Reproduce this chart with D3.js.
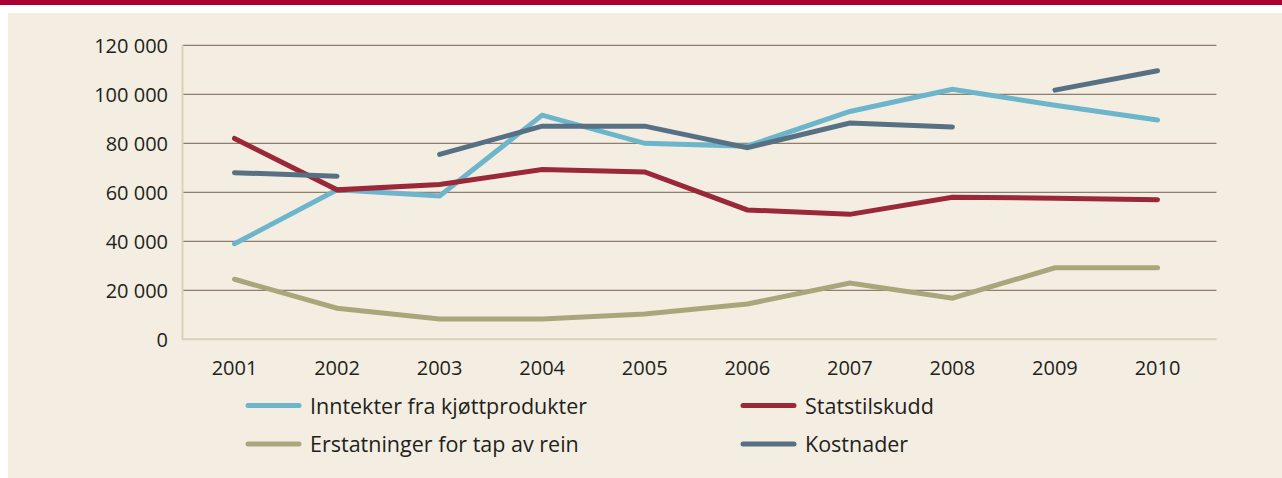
<!DOCTYPE html>
<html>
<head>
<meta charset="utf-8">
<script src="https://cdn.jsdelivr.net/npm/d3@7"></script>
<style>
  body { margin: 0; background: #fff; }
  svg { display: block; font-family: "Open Sans", sans-serif; }
</style>
</head>
<body>
<svg id="chart" width="1282" height="478"></svg>
<script>
  // data
  var years = ['2001','2002','2003','2004','2005','2006','2007','2008','2009','2010']
  var inntekter = [39000, 61000, 58500, 91500, 80000, 78800, 93000, 102000, 95500, 89500]
  var statstilskudd = [82000, 61000, 63200, 69300, 68300, 52800, 51000, 58000, 57600, 57000]
  var erstatninger = [24500, 12700, 8300, 8300, 10300, 14400, 23000, 16800, 29200, 29200]
  // kostnader has breaks: 2001-2002 | 2003-2008 | 2009-2010
  var kostnader = [68000, 66600, 75500, 87000, 87000, 78200, 88300, 86700, 101700, 109600]
  var kostnaderBreaks = [2, 8] // index where a new segment starts
  var yTicks = [0, 20000, 40000, 60000, 80000, 100000, 120000]

  var series = [
    {name: 'Inntekter fra kjøttprodukter', values: inntekter, color: '#6cb5cb'},
    {name: 'Statstilskudd', values: statstilskudd, color: '#9a2839'},
    {name: 'Erstatninger for tap av rein', values: erstatninger, color: '#aaa67c'},
    {name: 'Kostnader', values: kostnader, color: '#587084', breaks: kostnaderBreaks}
  ]

  var svg = d3.select('#chart')
  var plotLeft = 182.5, plotRight = 1216.5, plotTop = 45.3, plotBottom = 339.3

  svg.append('rect').attr('x', 0).attr('y', 0).attr('width', 1282).attr('height', 5).style('fill', '#ab0033')
  svg.append('rect').attr('x', 8).attr('y', 13).attr('width', 1274).attr('height', 465).style('fill', '#f4eee2')

  var x = d3.scalePoint().domain(years).range([234.5, 1157.5])
  var y = d3.scaleLinear().domain([0, 120000]).range([plotBottom, plotTop])

  var fmt = function(v){ return d3.format(',')(v).replace(/,/g, ' ') }

  // gridlines
  svg.append('g').selectAll('line')
    .data(yTicks.filter(function(d){ return d > 0 }))
    .enter().append('line')
    .attr('x1', plotLeft).attr('x2', plotRight)
    .attr('y1', function(d){ return y(d) }).attr('y2', function(d){ return y(d) })
    .style('stroke', '#8c7e70').style('stroke-width', 1.3)

  // axis frame
  svg.append('path')
    .attr('d', 'M' + plotLeft + ',' + plotTop + 'V' + plotBottom + 'H' + plotRight)
    .style('fill', 'none').style('stroke', '#d9d1ba').style('stroke-width', 2)

  svg.append('g').selectAll('text')
    .data(yTicks)
    .enter().append('text')
    .attr('x', 168).attr('y', function(d){ return y(d) + 8 })
    .attr('text-anchor', 'end')
    .style('font-size', '20px').style('fill', '#231f20')
    .text(fmt)

  svg.append('g').selectAll('text')
    .data(years)
    .enter().append('text')
    .attr('x', function(d){ return x(d) })
    .attr('y', 375)
    .attr('text-anchor', 'middle')
    .style('font-size', '20px').style('fill', '#231f20')
    .text(function(d){ return d })

  var line = d3.line()
    .x(function(d){ return x(d.year) })
    .y(function(d){ return y(d.value) })

  series.forEach(function(s){
    var pts = s.values.map(function(v, i){ return {year: years[i], value: v} })
    var cuts = [0].concat(s.breaks || []).concat([pts.length])
    for (var k = 0; k < cuts.length - 1; k++) {
      svg.append('path')
        .attr('d', line(pts.slice(cuts[k], cuts[k + 1])))
        .style('fill', 'none')
        .style('stroke', s.color)
        .style('stroke-width', 5)
        .style('stroke-linecap', 'round')
        .style('stroke-linejoin', 'miter')
    }
  })

  // legend
  var legendPos = [[248, 405.5], [743, 405.5], [248, 444], [743, 444]]
  series.forEach(function(s, i){
    var p = legendPos[i]
    svg.append('line')
      .attr('x1', p[0]).attr('x2', p[0] + 51)
      .attr('y1', p[1]).attr('y2', p[1])
      .style('stroke', s.color).style('stroke-width', 5).style('stroke-linecap', 'round')
    svg.append('text')
      .attr('x', p[0] + 62).attr('y', p[1] + 8)
      .style('font-size', '21.5px').style('fill', '#231f20')
      .text(s.name)
  })
</script>
</body>
</html>
